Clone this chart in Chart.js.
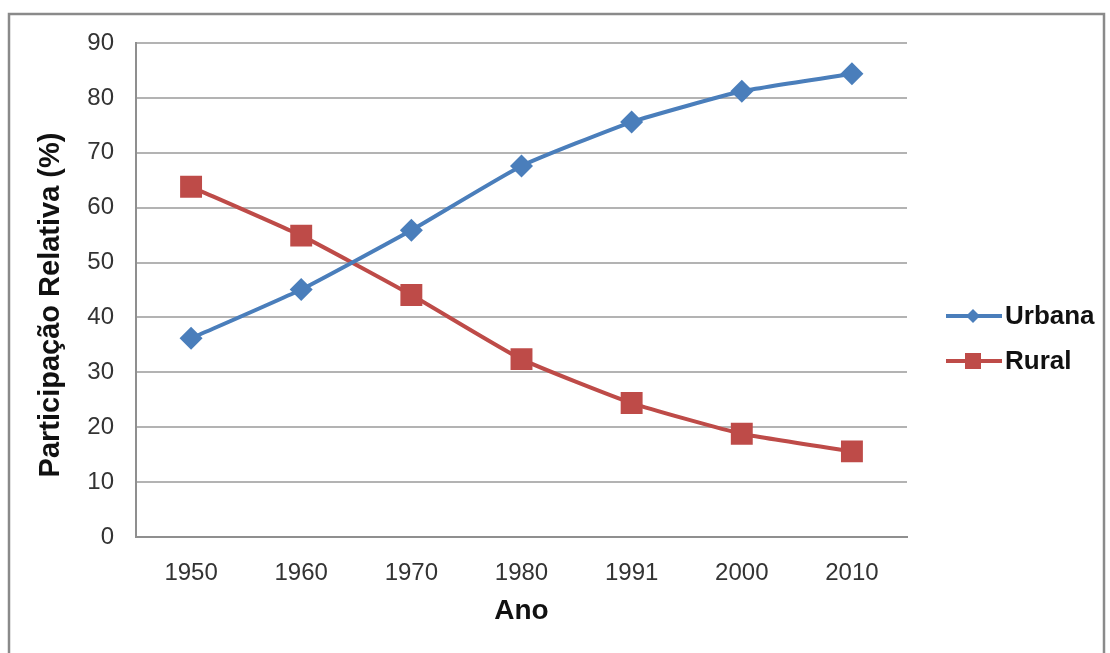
<!DOCTYPE html>
<html>

<head>
    <title>Participação Relativa</title>
    <script src="https://cdn.jsdelivr.net/npm/chart.js"></script>
    <style>
        html, body {
            margin: 0;
            padding: 0;
            background: #ffffff;
        }

        #wrap {
            position: absolute;
            left: 0;
            top: 0;
            width: 1110px;
            height: 653px;
        }
    </style>
</head>

<body>
    <div id="wrap">
        <canvas id="myChart" width="1110" height="653"></canvas>
    </div>

    <script>
        // data
        const anos = ['1950', '1960', '1970', '1980', '1991', '2000', '2010'];
        const urbana = [36.2, 45.1, 55.9, 67.6, 75.6, 81.2, 84.4];
        const rural = [63.8, 54.9, 44.1, 32.4, 24.4, 18.8, 15.6];
        const yTicks = [0, 10, 20, 30, 40, 50, 60, 70, 80, 90];

        const azul = '#4a7ebb';
        const vermelho = '#be4b48';

        // outer frame + rotated y title
        const framePlugin = {
            id: 'frame',
            beforeDraw(chart) {
                const c = chart.ctx;
                c.save();
                c.fillStyle = '#fff';
                c.fillRect(0, 0, chart.width, chart.height);
                c.strokeStyle = '#8a8a8a';
                c.lineWidth = 2.5;
                c.strokeRect(9, 14, 1095, 660);
                c.restore();
            },
            afterDraw(chart) {
                const c = chart.ctx;
                c.save();
                c.translate(51, 305);
                c.rotate(-Math.PI / 2);
                c.font = 'bold 29px "Liberation Sans", Arial, sans-serif';
                c.fillStyle = '#111';
                c.textAlign = 'center';
                c.textBaseline = 'middle';
                c.fillText('Participação Relativa (%)', 0, 0);
                c.restore();
            }
        };

        // Excel style legend: line + marker + label
        const legendPlugin = {
            id: 'excelLegend',
            afterDraw(chart) {
                const c = chart.ctx;
                const x0 = chart.chartArea.right + 39;
                const rows = [316, 361];
                c.save();
                chart.data.datasets.forEach((ds, i) => {
                    const y = rows[i];
                    c.strokeStyle = ds.borderColor;
                    c.lineWidth = 4;
                    c.beginPath();
                    c.moveTo(x0, y);
                    c.lineTo(x0 + 56, y);
                    c.stroke();
                    c.fillStyle = ds.backgroundColor;
                    const mx = x0 + 27;
                    if (ds.pointStyle === 'rectRot') {
                        c.beginPath();
                        c.moveTo(mx - 7, y);
                        c.lineTo(mx, y - 7);
                        c.lineTo(mx + 7, y);
                        c.lineTo(mx, y + 7);
                        c.closePath();
                        c.fill();
                    } else {
                        c.fillRect(mx - 8, y - 8, 16, 16);
                    }
                    c.font = 'bold 26px "Liberation Sans", Arial, sans-serif';
                    c.fillStyle = '#111';
                    c.textAlign = 'left';
                    c.textBaseline = 'middle';
                    c.fillText(ds.label, x0 + 59, y + 1);
                });
                c.restore();
            }
        };

        const ctx = document.getElementById('myChart').getContext('2d');

        const myChart = new Chart(ctx, {
            type: 'line',
            data: {
                labels: anos,
                datasets: [{
                    label: 'Urbana',
                    data: urbana,
                    borderColor: azul,
                    backgroundColor: azul,
                    borderWidth: 4,
                    pointStyle: 'rectRot',
                    pointRadius: 11.5,
                    pointHoverRadius: 11.5,
                    pointBorderWidth: 0,
                    tension: 0.15
                }, {
                    label: 'Rural',
                    data: rural,
                    borderColor: vermelho,
                    backgroundColor: vermelho,
                    borderWidth: 4,
                    pointStyle: 'rect',
                    pointRadius: 15.5,
                    pointHoverRadius: 15.5,
                    pointBorderWidth: 0,
                    tension: 0.15
                }]
            },
            options: {
                responsive: false,
                animation: false,
                layout: {
                    padding: { top: 43, right: 203, left: 0, bottom: 0 }
                },
                plugins: {
                    legend: { display: false },
                    tooltip: { enabled: false }
                },
                scales: {
                    x: {
                        offset: true,
                        afterFit(scale) { scale.height = 116; },
                        grid: { display: false, drawTicks: false },
                        border: { display: true, color: '#8f8f8f', width: 2 },
                        ticks: {
                            padding: 22,
                            color: '#333',
                            font: { family: '"Liberation Sans", Arial, sans-serif', size: 24 }
                        },
                        title: {
                            display: true,
                            text: 'Ano',
                            color: '#111',
                            padding: { top: 0, bottom: 25 },
                            font: { family: '"Liberation Sans", Arial, sans-serif', size: 28, weight: 'bold' }
                        }
                    },
                    y: {
                        min: 0,
                        max: 90,
                        afterFit(scale) { scale.width = 136; },
                        afterBuildTicks(scale) {
                            scale.ticks = yTicks.map(v => ({ value: v }));
                        },
                        grid: { color: '#b3b3b3', lineWidth: 2, drawTicks: false },
                        border: { display: true, color: '#8f8f8f', width: 2 },
                        ticks: {
                            padding: 22,
                            color: '#333',
                            font: { family: '"Liberation Sans", Arial, sans-serif', size: 24 }
                        }
                    }
                }
            },
            plugins: [framePlugin, legendPlugin]
        });
    </script>
</body>

</html>
